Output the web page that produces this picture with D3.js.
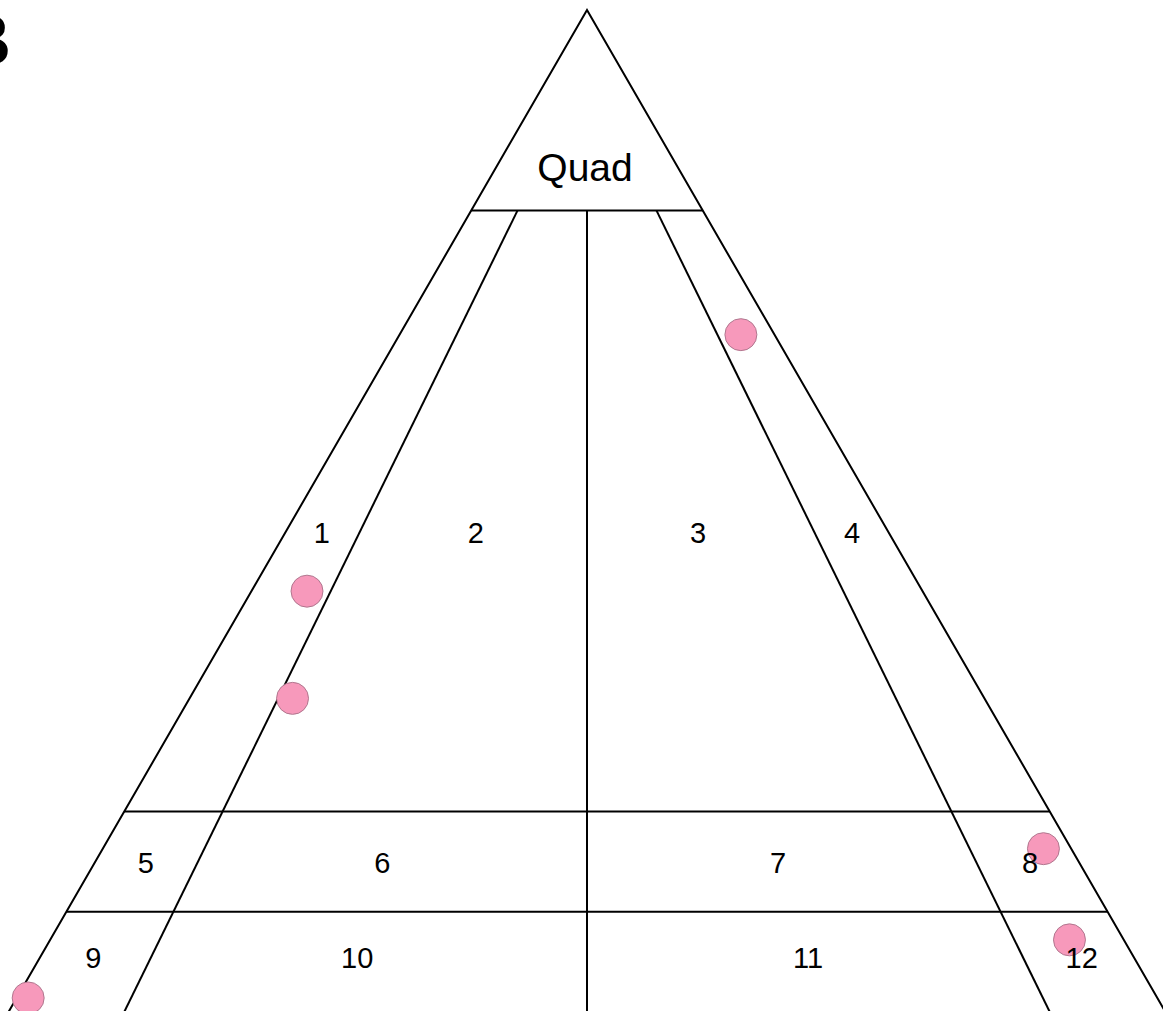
<!DOCTYPE html>
<html>
<head>
<meta charset="utf-8">
<script src="https://cdn.jsdelivr.net/npm/d3@7/dist/d3.min.js"></script>
<style>
  html, body { margin: 0; padding: 0; background: #fff; overflow: hidden; }
  svg { display: block; }
</style>
</head>
<body>
<svg id="chart" width="1163" height="1011"></svg>
<script>
// Sample compositions (percent): Quad apex, left corner, right corner
const sampleQuad  = [67.6, 42.0, 31.3, 16.3, 7.2, 1.4];
const sampleLeft  = [2.9, 53.2, 59.8, 2.4, 4.7, 97.6];
const sampleRight = [29.5, 4.8, 8.9, 81.3, 88.1, 1.0];

// Field boundaries: Quad levels of the horizontal cut lines
const quadCuts = [80, 20, 10];
// Field numbers with their Quad level and position across the row (fraction from left)
const fieldNames = ["1", "2", "3", "4", "5", "6", "7", "8", "9", "10", "11", "12"];
const fieldQuad  = [47.8, 47.8, 47.8, 47.8, 14.9, 14.9, 14.9, 14.9, 5.4, 5.4, 5.4, 5.4];
const fieldAcross = [0.061, 0.316, 0.684, 0.939, 0.052, 0.292, 0.694, 0.950, 0.049, 0.290, 0.702, 0.952];

const svg = d3.select("#chart");
const apexX = 587;

// Quad percentage -> vertical position; height maps to half-width by tan(30°)
const y = d3.scaleLinear().domain([0, 100]).range([1012, 10]);
const halfW = q => (y(q) - y(100)) * Math.tan(Math.PI / 6);
// Position across a row: 0 = left side, 1 = right side
const across = q => d3.scaleLinear().domain([0, 1]).range([apexX - halfW(q), apexX + halfW(q)]);

// Ternary (quad, left, right) -> [x, y]
function project(q, l, r) {
  const s = q + l + r;
  q = 100 * q / s; l = 100 * l / s; r = 100 * r / s;
  const f = (100 - q) > 0 ? r / (100 - q) : 0.5;
  return [across(q)(f), y(q)];
}

const line = d3.line();
const frame = svg.append("g")
  .attr("fill", "none")
  .attr("stroke", "#000")
  .attr("stroke-width", 2);

// Outer triangle
frame.append("path")
  .attr("d", line([project(100, 0, 0), project(0, 100, 0), project(0, 0, 100)]) + "Z");

// Horizontal cuts
quadCuts.forEach(q => {
  frame.append("path").attr("d", line([project(q, 100 - q, 0), project(q, 0, 100 - q)]));
});

// Central divider
frame.append("path").attr("d", line([project(80, 10, 10), project(0, 50, 50)]));

// Slanted dividers
frame.append("path").attr("d", line([project(80, 16, 4), project(0, 90, 10)]));
frame.append("path").attr("d", line([project(80, 4, 16), project(0, 10, 90)]));

// Samples
svg.append("g").selectAll("circle")
  .data(sampleQuad.map((q, i) => project(q, sampleLeft[i], sampleRight[i])))
  .join("circle")
  .attr("cx", d => d[0])
  .attr("cy", d => d[1])
  .attr("r", 16)
  .attr("fill", "#f799bb")
  .attr("stroke", "#a87088")
  .attr("stroke-width", 0.9);

// Labels
const font = "'Liberation Sans', Arial, Helvetica, sans-serif";
svg.append("text")
  .attr("x", apexX - 2)
  .attr("y", y(82.9))
  .attr("text-anchor", "middle")
  .attr("font-family", font)
  .attr("font-size", 39)
  .text("Quad");

svg.append("g").selectAll("text")
  .data(fieldNames)
  .join("text")
  .attr("x", (d, i) => across(fieldQuad[i])(fieldAcross[i]))
  .attr("y", (d, i) => y(fieldQuad[i]))
  .attr("dy", "0.36em")
  .attr("text-anchor", "middle")
  .attr("font-family", font)
  .attr("font-size", 29)
  .text(d => d);

// Panel letter
svg.append("text")
  .attr("x", 11)
  .attr("y", 65)
  .attr("text-anchor", "end")
  .attr("font-family", font)
  .attr("font-weight", "bold")
  .attr("font-size", 72)
  .text("B");
</script>
</body>
</html>
